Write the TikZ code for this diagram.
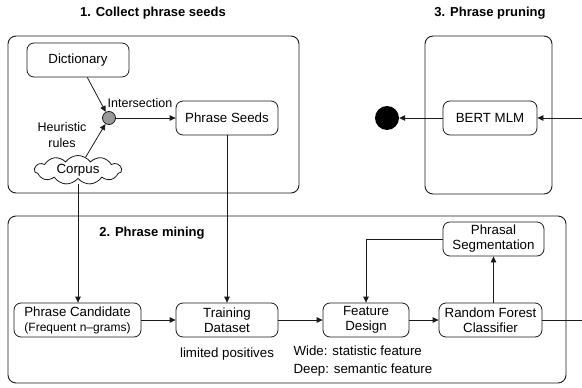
\documentclass[tikz,border=0pt]{standalone}
\usepackage{fontspec}
\setmainfont{Liberation Sans}
\usepackage{tikz}
\usetikzlibrary{shapes.geometric,arrows.meta,positioning,calc,shapes.symbols}
\definecolor{linecolor}{HTML}{1A1A1A}
\definecolor{dotgray}{HTML}{9A9A9A}

\begin{document}
\begin{tikzpicture}[x=1pt, y=-1pt, font=\fontsize{13.3}{15}\selectfont,
  arr/.style={-{Triangle[length=6pt,width=5.5pt]}, line width=0.8pt, linecolor},
  stage/.style={draw=linecolor, line width=0.9pt, rounded corners=8pt},
  stepbox/.style={draw=linecolor, line width=0.8pt, rounded corners=7pt,
    minimum height=34pt, inner sep=1pt, align=center},
  title/.style={font=\fontsize{13}{15}\selectfont\bfseries}]
  \clip (0,0) rectangle (582,388);
  % Stage frames
  \draw[stage] (8,36) rectangle (299,193);
  \draw[stage] (425,36) rectangle (552,194);
  \draw[stage] (8,216) rectangle (566,383);
  \node[title] (t1) at (153,13) {1. Collect phrase seeds};
  \node[title] (t3) at (490,13) {3. Phrase pruning};
  \node[title] (t2) at (152,233) {2. Phrase mining};
  % Stage 1: seeds
  \node[stepbox, minimum width=102pt] (dict) at (78,60) {Dictionary};
  \node[circle, draw=linecolor, line width=0.8pt, fill=dotgray, minimum size=13pt,
    inner sep=0pt] (isect) at (109,118) {};
  \node[stepbox, minimum width=102pt] (seeds) at (227,118) {Phrase Seeds};
  \node[cloud, draw=linecolor, line width=0.8pt, cloud puffs=11, cloud puff arc=110,
    cloud ignores aspect, minimum width=87pt, minimum height=29pt, inner sep=0pt]
    (corpus) at (78,170) {Corpus};
  \coordinate (corpusbot) at ([yshift=-4.5pt]corpus.south);
  \node[font=\fontsize{12.5}{15}\selectfont] (isectlbl) at (140,103) {Intersection};
  \node[font=\fontsize{12.5}{16}\selectfont, align=center] (heur) at (62,135) {Heuristic\\rules};
  \draw[arr] (dict) -- (isect);
  \draw[arr] (corpus) -- (isect);
  \draw[arr] (isect) -- (seeds);
  % Stage 3: pruning
  \node[stepbox, minimum width=94pt] (bert) at (490,118) {BERT MLM};
  \node[circle, fill=black, minimum size=24pt, inner sep=0pt] (done) at (387,118) {};
  \draw[arr] (bert) -- (done);
  % Stage 2: mining
  \node[stepbox, minimum width=127pt] (cand) at (77.5,320)
    {Phrase Candidate\\{\fontsize{12}{14}\selectfont(Frequent n--grams)}};
  \node[stepbox, minimum width=102pt] (train) at (227,320) {Training\\Dataset};
  \node[stepbox, minimum width=86pt] (feat) at (366,320) {Feature\\Design};
  \node[stepbox, minimum width=103pt] (rf) at (490.5,320) {Random Forest\\Classifier};
  \node[stepbox, minimum width=101pt] (seg) at (493.5,239) {Phrasal\\Segmentation};
  \node (limpos) at (227,354) {limited positives};
  \node[anchor=west] (wide) at (290,351) {Wide: statistic feature};
  \node[anchor=west] (deep) at (290,370) {Deep: semantic feature};
  \draw[arr] (corpusbot) -- (corpusbot |- cand.north);
  \draw[arr] (seeds.south) -- (train.north);
  \draw[arr] (cand) -- (train);
  \draw[arr] (train) -- (feat);
  \draw[arr] (feat) -- (rf);
  \draw[arr] (seg.south |- rf.north) -- (seg.south);
  \draw[arr] (seg.west) -| (feat.north);
  \draw[arr] (rf.east) -- ++(70,0) |- (bert.east);
\end{tikzpicture}
\end{document}
